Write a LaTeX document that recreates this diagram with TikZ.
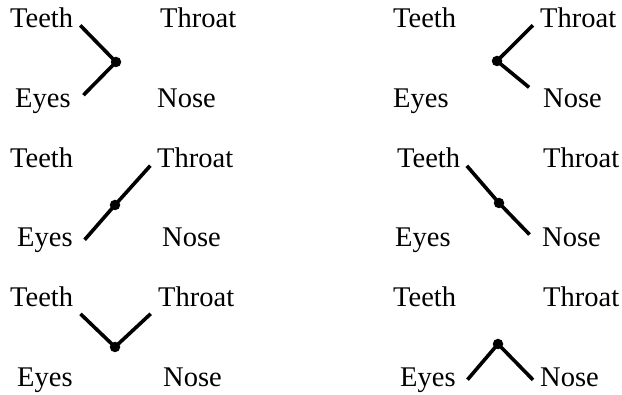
\documentclass[tikz,border=0pt]{standalone}
\usepackage{fontspec}
\setmainfont{Liberation Serif}
\usepackage{tikz}

\begin{document}
\begin{tikzpicture}[x=1pt,y=-1pt]
\tikzset{
  word/.style={anchor=base west, inner sep=0pt, font=\fontsize{28.5}{28.5}\selectfont},
  joint/.style={circle, fill=black, inner sep=0pt, minimum size=10.5pt},
  link/.style={line width=3.6pt, shorten <=10pt},
  lowlink/.style={line width=3.6pt, shorten <=18pt}
}
\useasboundingbox (0,0) rectangle (622,395);
% top left
\node [word] (teeth1) at (10,28) {Teeth};
\node [word] (throat1) at (160,28) {Throat};
\node [word] (eyes1) at (15,108) {Eyes};
\node [word] (nose1) at (157,108) {Nose};
\node [joint] (joint1) at (116,62) {};
\draw [link] (teeth1.east) -- (joint1.center);
\draw [lowlink] (eyes1.base east) -- (joint1.center);
% top right
\node [word] (teeth2) at (393,28) {Teeth};
\node [word] (throat2) at (540,28) {Throat};
\node [word] (eyes2) at (393,108) {Eyes};
\node [word] (nose2) at (543,108) {Nose};
\node [joint] (joint2) at (497,61) {};
\draw [link] (throat2.west) -- (joint2.center);
\draw [lowlink] (nose2.west) -- (joint2.center);
% middle left
\node [word] (teeth3) at (10,168) {Teeth};
\node [word] (throat3) at (157,168) {Throat};
\node [word] (eyes3) at (17,247) {Eyes};
\node [word] (nose3) at (162,247) {Nose};
\node [joint] (joint3) at (115,205) {};
\draw [lowlink] (eyes3.south east) -- (joint3.center);
\draw [link] (throat3.west) -- (joint3.center);
% middle right
\node [word] (teeth4) at (397,168) {Teeth};
\node [word] (throat4) at (543,168) {Throat};
\node [word] (eyes4) at (395,247) {Eyes};
\node [word] (nose4) at (542,247) {Nose};
\node [joint] (joint4) at (499,203) {};
\draw [link] (teeth4.east) -- (joint4.center);
\draw [lowlink] (nose4.south west) -- (joint4.center);
% bottom left
\node [word] (teeth5) at (10,307) {Teeth};
\node [word] (throat5) at (158,307) {Throat};
\node [word] (eyes5) at (17,387) {Eyes};
\node [word] (nose5) at (163,387) {Nose};
\node [joint] (joint5) at (115,347) {};
\draw [link] (teeth5.base east) -- (joint5.center);
\draw [link] (throat5.base west) -- (joint5.center);
% bottom right
\node [word] (teeth6) at (393,307) {Teeth};
\node [word] (throat6) at (543,307) {Throat};
\node [word] (eyes6) at (400,387) {Eyes};
\node [word] (nose6) at (540,387) {Nose};
\node [joint] (joint6) at (498,344) {};
\draw [lowlink] (eyes6.south east) -- (joint6.center);
\draw [link] (nose6.base west) -- (joint6.center);
\end{tikzpicture}
\end{document}
